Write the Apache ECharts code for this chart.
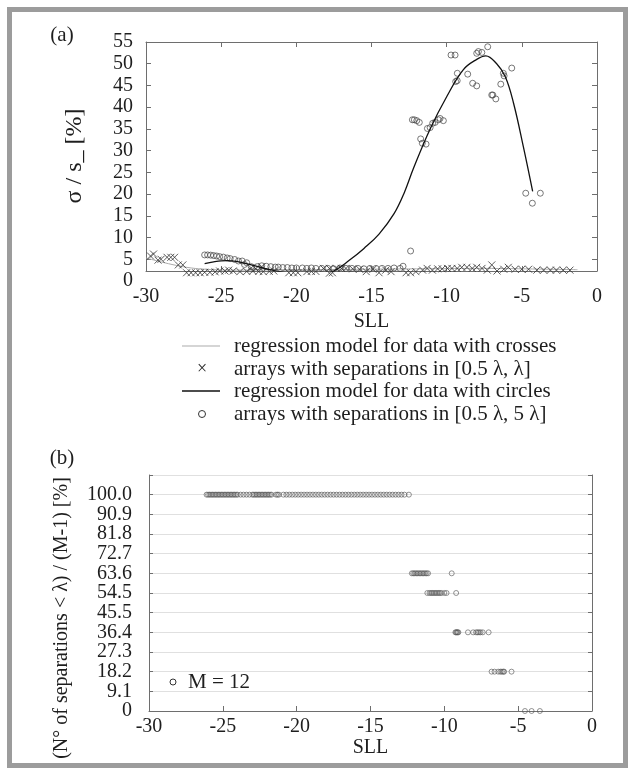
<!DOCTYPE html>
<html>
<head>
<meta charset="utf-8">
<script src="https://cdn.jsdelivr.net/npm/echarts@6.0.0/dist/echarts.min.js"></script>
<style>
html, body { margin: 0; padding: 0; background: #fff; }
#chart { width: 635px; height: 775px; }
</style>
</head>
<body>
<div id="chart"></div>
<script>
// ---- panel (a): sigma / s [%] against SLL ----
// arrays with separations in [0.5 lambda, lambda]  (crosses)
const crossPoints = [
  [-29.7, 5.75], [-29.5, 6.2], [-29.2, 4.8], [-29.0, 5.0], [-28.6, 5.45], [-28.35, 5.45], [-28.1, 5.45], [-27.85, 3.7], [-27.55, 3.7],
  [-27.3, 1.9], [-27.0, 1.9], [-26.7, 1.9], [-26.4, 1.9], [-26.1, 2.0], [-25.75, 2.0], [-25.4, 2.1], [-25.1, 2.3], [-24.75, 2.3],
  [-24.5, 2.5], [-24.2, 2.3], [-23.75, 2.15], [-23.3, 2.2], [-22.9, 2.3], [-22.5, 2.2], [-22.2, 2.15], [-21.8, 2.2], [-21.5, 2.3],
  [-20.5, 1.9], [-20.2, 1.9], [-19.9, 1.9], [-19.3, 2.15], [-19.0, 2.2], [-18.7, 2.2], [-17.8, 1.8], [-17.6, 1.9],
  [-23.0, 3.0], [-22.7, 2.8], [-22.3, 3.3],
  [-18.2, 2.9], [-17.8, 2.9], [-17.35, 2.9], [-17.0, 2.9], [-16.7, 2.9], [-16.25, 2.8], [-15.8, 2.7], [-15.35, 2.15],
  [-14.9, 2.7], [-14.5, 1.9], [-14.05, 2.5], [-13.7, 2.15],
  [-12.7, 1.9], [-12.4, 1.9], [-12.05, 2.15], [-11.6, 2.5], [-11.3, 2.9], [-10.95, 2.5], [-10.6, 2.8], [-10.3, 2.8],
  [-9.95, 2.9], [-9.65, 2.9], [-9.3, 2.9], [-9.0, 3.15], [-8.65, 3.15], [-8.3, 2.9], [-8.0, 3.15], [-7.65, 2.9],
  [-7.3, 2.5], [-7.0, 3.7], [-6.65, 2.3], [-6.2, 2.7], [-5.9, 3.15], [-5.45, 2.7], [-5.0, 2.7], [-4.55, 2.7],
  [-4.0, 2.5], [-3.55, 2.5], [-3.1, 2.5], [-2.7, 2.5], [-2.25, 2.5], [-1.8, 2.5]
];
// arrays with separations in [0.5 lambda, 5 lambda]  (circles)
const circlePoints = [
  [-26.1, 6.0], [-25.9, 6.0], [-25.7, 5.95], [-25.5, 5.85], [-25.3, 5.75], [-25.1, 5.6], [-24.85, 5.5], [-24.6, 5.3],
  [-24.4, 5.15], [-24.1, 4.95], [-23.85, 4.6], [-23.6, 4.6], [-23.45, 3.8], [-23.3, 4.2], [-23.0, 3.3], [-22.6, 3.3],
  [-22.3, 3.5], [-22.0, 3.4], [-21.7, 3.3], [-21.4, 3.2], [-21.2, 3.2], [-20.9, 3.1], [-20.6, 3.1], [-20.3, 3.0],
  [-20.0, 3.0], [-19.6, 3.0], [-19.3, 2.9], [-19.0, 3.0], [-18.7, 2.9], [-18.3, 2.9], [-17.9, 2.9], [-17.5, 2.8],
  [-17.1, 3.0], [-16.7, 2.9], [-16.3, 2.9], [-15.9, 2.9], [-15.5, 2.8], [-15.1, 2.9], [-14.7, 2.9], [-14.3, 2.9],
  [-13.9, 2.9], [-13.5, 3.0], [-13.1, 2.9], [-12.9, 3.4],
  [-12.4, 6.9],
  [-12.28, 37.1], [-12.15, 37.1], [-11.99, 36.9], [-11.82, 36.5], [-11.73, 32.7], [-11.62, 31.7], [-11.37, 31.5],
  [-11.28, 35.1], [-11.1, 35.3], [-10.93, 36.3], [-10.77, 36.5], [-10.55, 37.1], [-10.44, 37.4], [-10.22, 36.9],
  [-9.71, 52.0], [-9.44, 52.0], [-9.29, 47.8], [-9.4, 45.9], [-9.3, 46.1], [-8.6, 47.6], [-8.27, 45.5], [-8.0, 44.9],
  [-8.0, 52.4], [-7.89, 52.8], [-7.66, 52.6], [-7.27, 53.9], [-7.0, 42.8], [-6.93, 42.8], [-6.73, 41.9], [-6.4, 45.3],
  [-6.23, 47.8], [-6.18, 47.2], [-5.67, 49.0],
  [-4.74, 20.2], [-4.3, 17.9], [-3.77, 20.2]
];
// regression model for data with crosses
const crossFit = [
  [-30, 5.3], [-29, 4.4], [-28, 3.6], [-27, 3.0], [-26, 2.7], [-25, 2.55], [-24, 2.5], [-22, 2.55], [-20, 2.6],
  [-18, 2.65], [-16, 2.7], [-14, 2.75], [-12, 2.8], [-10, 2.85], [-8, 2.9], [-6, 2.85], [-4, 2.75], [-2, 2.65], [-1.3, 2.6]
];
// regression model for data with circles
const circleFit = [
  [-26.1, 4.0], [-25.5, 4.4], [-25.0, 4.65], [-24.6, 4.7], [-24.0, 4.5], [-23.0, 3.7], [-22.0, 2.8], [-21.0, 2.1],
  [-20.0, 1.6], [-19.0, 1.2], [-18.3, 1.4], [-17.5, 2.3], [-16.5, 4.7], [-15.5, 7.5], [-14.5, 10.8], [-13.5, 15.5],
  [-12.8, 20.5], [-12.2, 26.0], [-11.1, 35.0], [-10.0, 42.4], [-8.9, 48.6], [-8.0, 51.0], [-7.4, 51.8], [-6.7, 50.1],
  [-6.1, 47.0], [-5.55, 40.9], [-4.9, 30.9], [-4.28, 20.6]
];
const sigmaTicks = [5, 10, 15, 20, 25, 30, 35, 40, 45, 50];

// ---- panel (b): share of separations < lambda, M = 12 ----
const shareTickLabels = ['0', '9.1', '18.2', '27.3', '36.4', '45.5', '54.5', '63.6', '72.7', '81.8', '90.9', '100.0'];
const shareLevels = [100, 63.64, 54.55, 36.36, 18.18, 0];
const shareSLL = [
  [-26.1, -26.0, -25.9, -25.8, -25.7, -25.6, -25.5, -25.4, -25.3, -25.2, -25.1, -25.0, -24.9, -24.8, -24.7, -24.6,
   -24.5, -24.4, -24.3, -24.2, -24.1, -24.0, -23.8, -23.6, -23.4, -23.2, -23.0, -22.9, -22.8, -22.7, -22.6, -22.5,
   -22.4, -22.3, -22.2, -22.1, -22.0, -21.9, -21.8, -21.7, -21.4, -21.3, -21.2, -20.9, -20.7, -20.5, -20.3, -20.1,
   -19.9, -19.7, -19.5, -19.3, -19.1, -18.9, -18.7, -18.5, -18.3, -18.1, -17.9, -17.7, -17.5, -17.3, -17.1, -16.9,
   -16.7, -16.5, -16.3, -16.1, -15.9, -15.7, -15.5, -15.3, -15.1, -14.9, -14.7, -14.5, -14.3, -14.1, -13.9, -13.7,
   -13.5, -13.3, -13.1, -12.9, -12.7, -12.4],
  [-12.2, -12.1, -12.0, -11.9, -11.8, -11.7, -11.6, -11.5, -11.4, -11.3, -11.2, -11.1, -9.5],
  [-11.15, -11.0, -10.9, -10.8, -10.7, -10.6, -10.5, -10.4, -10.3, -10.2, -10.0, -9.85, -9.2],
  [-9.25, -9.2, -9.15, -9.1, -9.05, -8.4, -8.05, -7.85, -7.75, -7.65, -7.55, -7.4, -7.0],
  [-6.8, -6.6, -6.35, -6.2, -6.1, -6.0, -5.95, -5.45],
  [-4.54, -4.09, -3.53]
];

const shareData = [];
shareLevels.forEach((lv, i) => {
  shareSLL[i].forEach(x => shareData.push([x, lv]));
});
// label positions: one step per pair (M-1 = 11 steps); labels are split over two
// axes so that the tightly packed tick labels are not dropped as overlapping
const shareTickValues = shareTickLabels.map((s, k) => k * 100 / 11);
const shareEven = shareTickValues.filter((v, k) => k % 2 === 0);
const shareOdd = shareTickValues.filter((v, k) => k % 2 === 1);
const shareLabel = v => shareTickLabels[Math.round(v * 11 / 100)] || '';

const serif = 'Liberation Serif';
const axisGray = '#6e6e6e';
const ink = '#1e1e1e';
const crossSymbol = 'path://M0,0L10,10M10,0L0,10';

const chart = echarts.init(document.getElementById('chart'));

const option = {
  animation: false,
  backgroundColor: '#fff',
  grid: [
    { left: 146, top: 42, width: 451, height: 229 },   // (a) data box
    { left: 146, top: 42, width: 451, height: 239 },   // (a) tick labels, 0 sits below the box
    { left: 149, top: 475, width: 443, height: 236 },  // (b)
    { left: 149, top: 475, width: 443, height: 236 }   // (b) second set of tick labels
  ],
  xAxis: [
    {
      gridIndex: 0, type: 'value', min: -30, max: 0, interval: 5, position: 'bottom',
      axisLine: { onZero: false, lineStyle: { color: axisGray } },
      axisTick: { inside: true, length: 5, lineStyle: { color: axisGray } },
      axisLabel: { fontFamily: serif, fontSize: 20, color: ink, margin: 16 },
      splitLine: { show: false },
      name: 'SLL', nameLocation: 'middle', nameGap: 41,
      nameTextStyle: { fontFamily: serif, fontSize: 20, color: ink }
    },
    {
      gridIndex: 0, type: 'value', min: -30, max: 0, interval: 5, position: 'top',
      axisLine: { onZero: false, lineStyle: { color: axisGray } },
      axisTick: { inside: true, length: 5, lineStyle: { color: axisGray } },
      axisLabel: { show: false }, splitLine: { show: false }
    },
    { gridIndex: 1, type: 'value', min: -30, max: 0, show: false },
    {
      gridIndex: 2, type: 'value', min: -30, max: 0, interval: 5, position: 'bottom',
      axisLine: { onZero: false, lineStyle: { color: axisGray } },
      axisTick: { inside: true, length: 5, lineStyle: { color: axisGray } },
      axisLabel: { fontFamily: serif, fontSize: 20, color: ink, margin: 6 },
      splitLine: { show: false },
      name: 'SLL', nameLocation: 'middle', nameGap: 27,
      nameTextStyle: { fontFamily: serif, fontSize: 20, color: ink }
    },
    { gridIndex: 3, type: 'value', min: -30, max: 0, show: false }
  ],
  yAxis: [
    {
      gridIndex: 0, type: 'value', min: 2.3, max: 55, position: 'left',
      axisLine: { onZero: false, lineStyle: { color: axisGray } },
      axisTick: { inside: true, length: 5, customValues: sigmaTicks, lineStyle: { color: axisGray } },
      axisLabel: { show: false }, splitLine: { show: false }
    },
    {
      gridIndex: 0, type: 'value', min: 2.3, max: 55, position: 'right',
      axisLine: { onZero: false, lineStyle: { color: axisGray } },
      axisTick: { inside: true, length: 5, customValues: sigmaTicks, lineStyle: { color: axisGray } },
      axisLabel: { show: false }, splitLine: { show: false }
    },
    {
      gridIndex: 1, type: 'value', min: 0, max: 55, interval: 5, position: 'left',
      axisLine: { show: false, onZero: false }, axisTick: { show: false },
      axisLabel: { fontFamily: serif, fontSize: 20, lineHeight: 15, color: ink, margin: 13, showMinLabel: true, showMaxLabel: true },
      splitLine: { show: false }
    },
    {
      gridIndex: 2, type: 'value', min: 0, max: 1200 / 11, interval: 100 / 11, position: 'left',
      axisLine: { onZero: false, lineStyle: { color: axisGray } },
      axisTick: { inside: true, length: 4, lineStyle: { color: axisGray } },
      axisLabel: {
        fontFamily: serif, fontSize: 20, color: ink, margin: 17,
        customValues: shareEven, formatter: shareLabel
      },
      splitLine: { show: true, lineStyle: { color: '#e0e0e0', width: 1 } }
    },
    {
      gridIndex: 2, type: 'value', min: 0, max: 1200 / 11, interval: 100 / 11, position: 'right',
      axisLine: { onZero: false, lineStyle: { color: axisGray } },
      axisTick: { inside: true, length: 4, lineStyle: { color: axisGray } },
      axisLabel: { show: false }, splitLine: { show: false }
    },
    {
      gridIndex: 3, type: 'value', min: 0, max: 1200 / 11, position: 'left',
      axisLine: { show: false, onZero: false }, axisTick: { show: false }, splitLine: { show: false },
      axisLabel: {
        fontFamily: serif, fontSize: 20, color: ink, margin: 17,
        customValues: shareOdd, formatter: shareLabel
      }
    }
  ],
  series: [
    {
      type: 'line', xAxisIndex: 0, yAxisIndex: 0, data: crossFit, smooth: 0.4, symbol: 'none',
      lineStyle: { color: '#ababab', width: 1 }, z: 1
    },
    {
      type: 'scatter', xAxisIndex: 0, yAxisIndex: 0, data: crossPoints, clip: false,
      symbol: crossSymbol, symbolSize: 7,
      itemStyle: { color: 'rgba(0,0,0,0)', borderColor: '#333', borderWidth: 1 }
    },
    {
      type: 'line', xAxisIndex: 0, yAxisIndex: 0, data: circleFit, smooth: 0.4, symbol: 'none',
      lineStyle: { color: '#111', width: 1.3 }, z: 3
    },
    {
      type: 'scatter', xAxisIndex: 0, yAxisIndex: 0, data: circlePoints, clip: false,
      symbol: 'circle', symbolSize: 6,
      itemStyle: { color: 'rgba(0,0,0,0)', borderColor: '#444', borderWidth: 0.9 }
    },
    {
      type: 'scatter', xAxisIndex: 3, yAxisIndex: 3, data: shareData,
      symbol: 'circle', symbolSize: 5,
      itemStyle: { color: 'rgba(0,0,0,0)', borderColor: '#555', borderWidth: 0.8 }
    }
  ],
  graphic: [
    // grey frame round the figure
    { type: 'rect', shape: { x: 9.5, y: 9.5, width: 616, height: 756 }, style: { fill: 'none', stroke: '#9c9c9c', lineWidth: 5 }, silent: true },
    { type: 'text', x: 62, y: 35, style: { text: '(a)', font: '21px "Liberation Serif"', fill: ink, align: 'center', verticalAlign: 'middle' } },
    { type: 'text', x: 62, y: 458, style: { text: '(b)', font: '21px "Liberation Serif"', fill: ink, align: 'center', verticalAlign: 'middle' } },
    // axis titles
    { type: 'text', x: 75, y: 156, rotation: Math.PI / 2, style: { text: 'σ / s_ [%]', font: '24px "Liberation Serif"', fill: ink, align: 'center', verticalAlign: 'middle' } },
    { type: 'text', x: 62, y: 618, rotation: Math.PI / 2, style: { text: '(N° of separations < λ) / (M-1) [%]', font: '20px "Liberation Serif"', fill: ink, align: 'center', verticalAlign: 'middle' } },
    // legend of (a)
    { type: 'line', shape: { x1: 182, y1: 346, x2: 220, y2: 346 }, style: { stroke: '#ababab', lineWidth: 1 } },
    { type: 'text', x: 234, y: 346, style: { text: 'regression model for data with crosses', font: '21px "Liberation Serif"', fill: ink, verticalAlign: 'middle' } },
    { type: 'text', x: 202, y: 369, style: { text: '×', font: '18px "Liberation Serif"', fill: ink, align: 'center', verticalAlign: 'middle' } },
    { type: 'text', x: 234, y: 369, style: { text: 'arrays with separations in [0.5 λ, λ]', font: '21px "Liberation Serif"', fill: ink, verticalAlign: 'middle' } },
    { type: 'line', shape: { x1: 182, y1: 391, x2: 220, y2: 391 }, style: { stroke: '#111', lineWidth: 1.5 } },
    { type: 'text', x: 234, y: 391, style: { text: 'regression model for data with circles', font: '21px "Liberation Serif"', fill: ink, verticalAlign: 'middle' } },
    { type: 'circle', shape: { cx: 202, cy: 414, r: 3.5 }, style: { fill: 'none', stroke: '#333', lineWidth: 1 } },
    { type: 'text', x: 234, y: 414, style: { text: 'arrays with separations in [0.5 λ, 5 λ]', font: '21px "Liberation Serif"', fill: ink, verticalAlign: 'middle' } },
    // legend of (b)
    { type: 'circle', shape: { cx: 173, cy: 682, r: 3 }, style: { fill: 'none', stroke: '#333', lineWidth: 1 } },
    { type: 'text', x: 188, y: 682, style: { text: 'M = 12', font: '21px "Liberation Serif"', fill: ink, verticalAlign: 'middle' } }
  ]
};

chart.setOption(option);
</script>
</body>
</html>
